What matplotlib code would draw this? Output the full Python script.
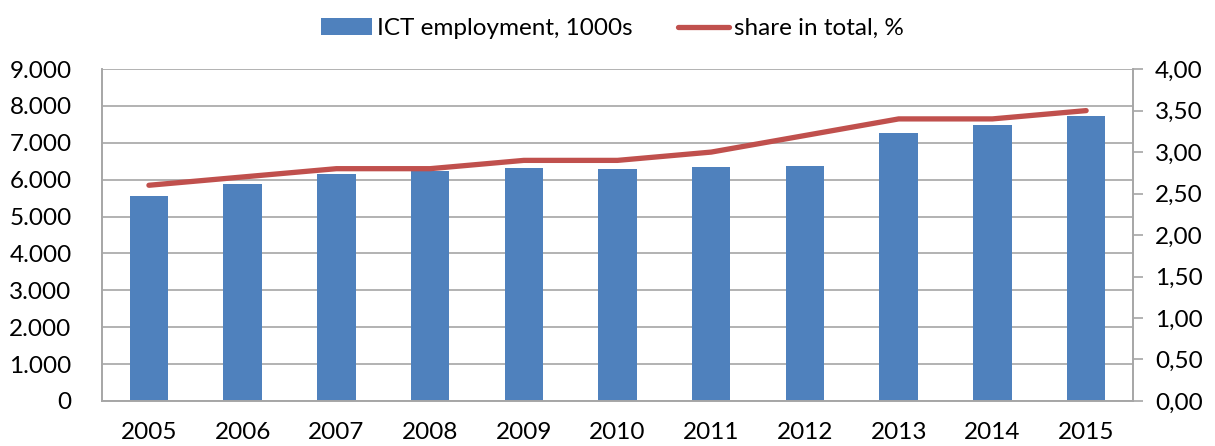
import matplotlib.pyplot as plt
from matplotlib.ticker import FuncFormatter, MultipleLocator

years = ['2005', '2006', '2007', '2008', '2009', '2010', '2011', '2012', '2013', '2014', '2015']
ict_employment = [5560, 5880, 6150, 6250, 6310, 6290, 6340, 6370, 7260, 7480, 7720]
share_total = [2.6, 2.7, 2.8, 2.8, 2.9, 2.9, 3.0, 3.2, 3.4, 3.4, 3.5]

plt.rcParams['font.family'] = ['Lato', 'DejaVu Sans']
grey = '#a6a6a6'

fig = plt.figure(figsize=(12.15, 4.46), dpi=100)
ax = fig.add_axes([0.084, 0.101, 0.8485, 0.744])
x = range(len(years))

bars = ax.bar(x, ict_employment, width=0.41, color='#4f81bd', label='ICT employment, 1000s', zorder=2)
ax.set_ylim(0, 9000)
ax.set_xlim(-0.5, len(years) - 0.5)
ax.yaxis.set_major_locator(MultipleLocator(1000))
ax.yaxis.set_major_formatter(FuncFormatter(lambda v, p: f'{int(v):,}'.replace(',', '.')))
ax.grid(axis='y', color=grey, linewidth=1.2, zorder=0)
ax.set_xticks(list(x))
ax.set_xticklabels(years)
ax.tick_params(axis='x', length=0, labelsize=17.5, pad=15)
ax.tick_params(axis='y', length=0, labelsize=17.5, pad=22)
for s in ax.spines.values():
    s.set_color(grey)
    s.set_linewidth(1.2)
ax.spines['top'].set_visible(False)

ax2 = ax.twinx()
line, = ax2.plot(x, share_total, color='#c0504d', linewidth=3.8, solid_capstyle='round', label='share in total, %', zorder=3)
ax2.set_ylim(0, 4)
ax2.yaxis.set_major_locator(MultipleLocator(0.5))
ax2.yaxis.set_major_formatter(FuncFormatter(lambda v, p: f'{v:.2f}'.replace('.', ',')))
ax2.tick_params(axis='y', length=7, color=grey, width=1.2, labelsize=17.5, pad=9)
for s in ax2.spines.values():
    s.set_color(grey)
    s.set_linewidth(1.2)
ax2.spines['top'].set_visible(False)

fig.legend([bars, line], ['ICT employment, 1000s', 'share in total, %'], loc='upper center',
           bbox_to_anchor=(0.504, 1.008), ncol=2, frameon=False, fontsize=17.5,
           handlelength=2.1, handletextpad=0.2, columnspacing=1.9)

fig.savefig('out.png', dpi=100)
